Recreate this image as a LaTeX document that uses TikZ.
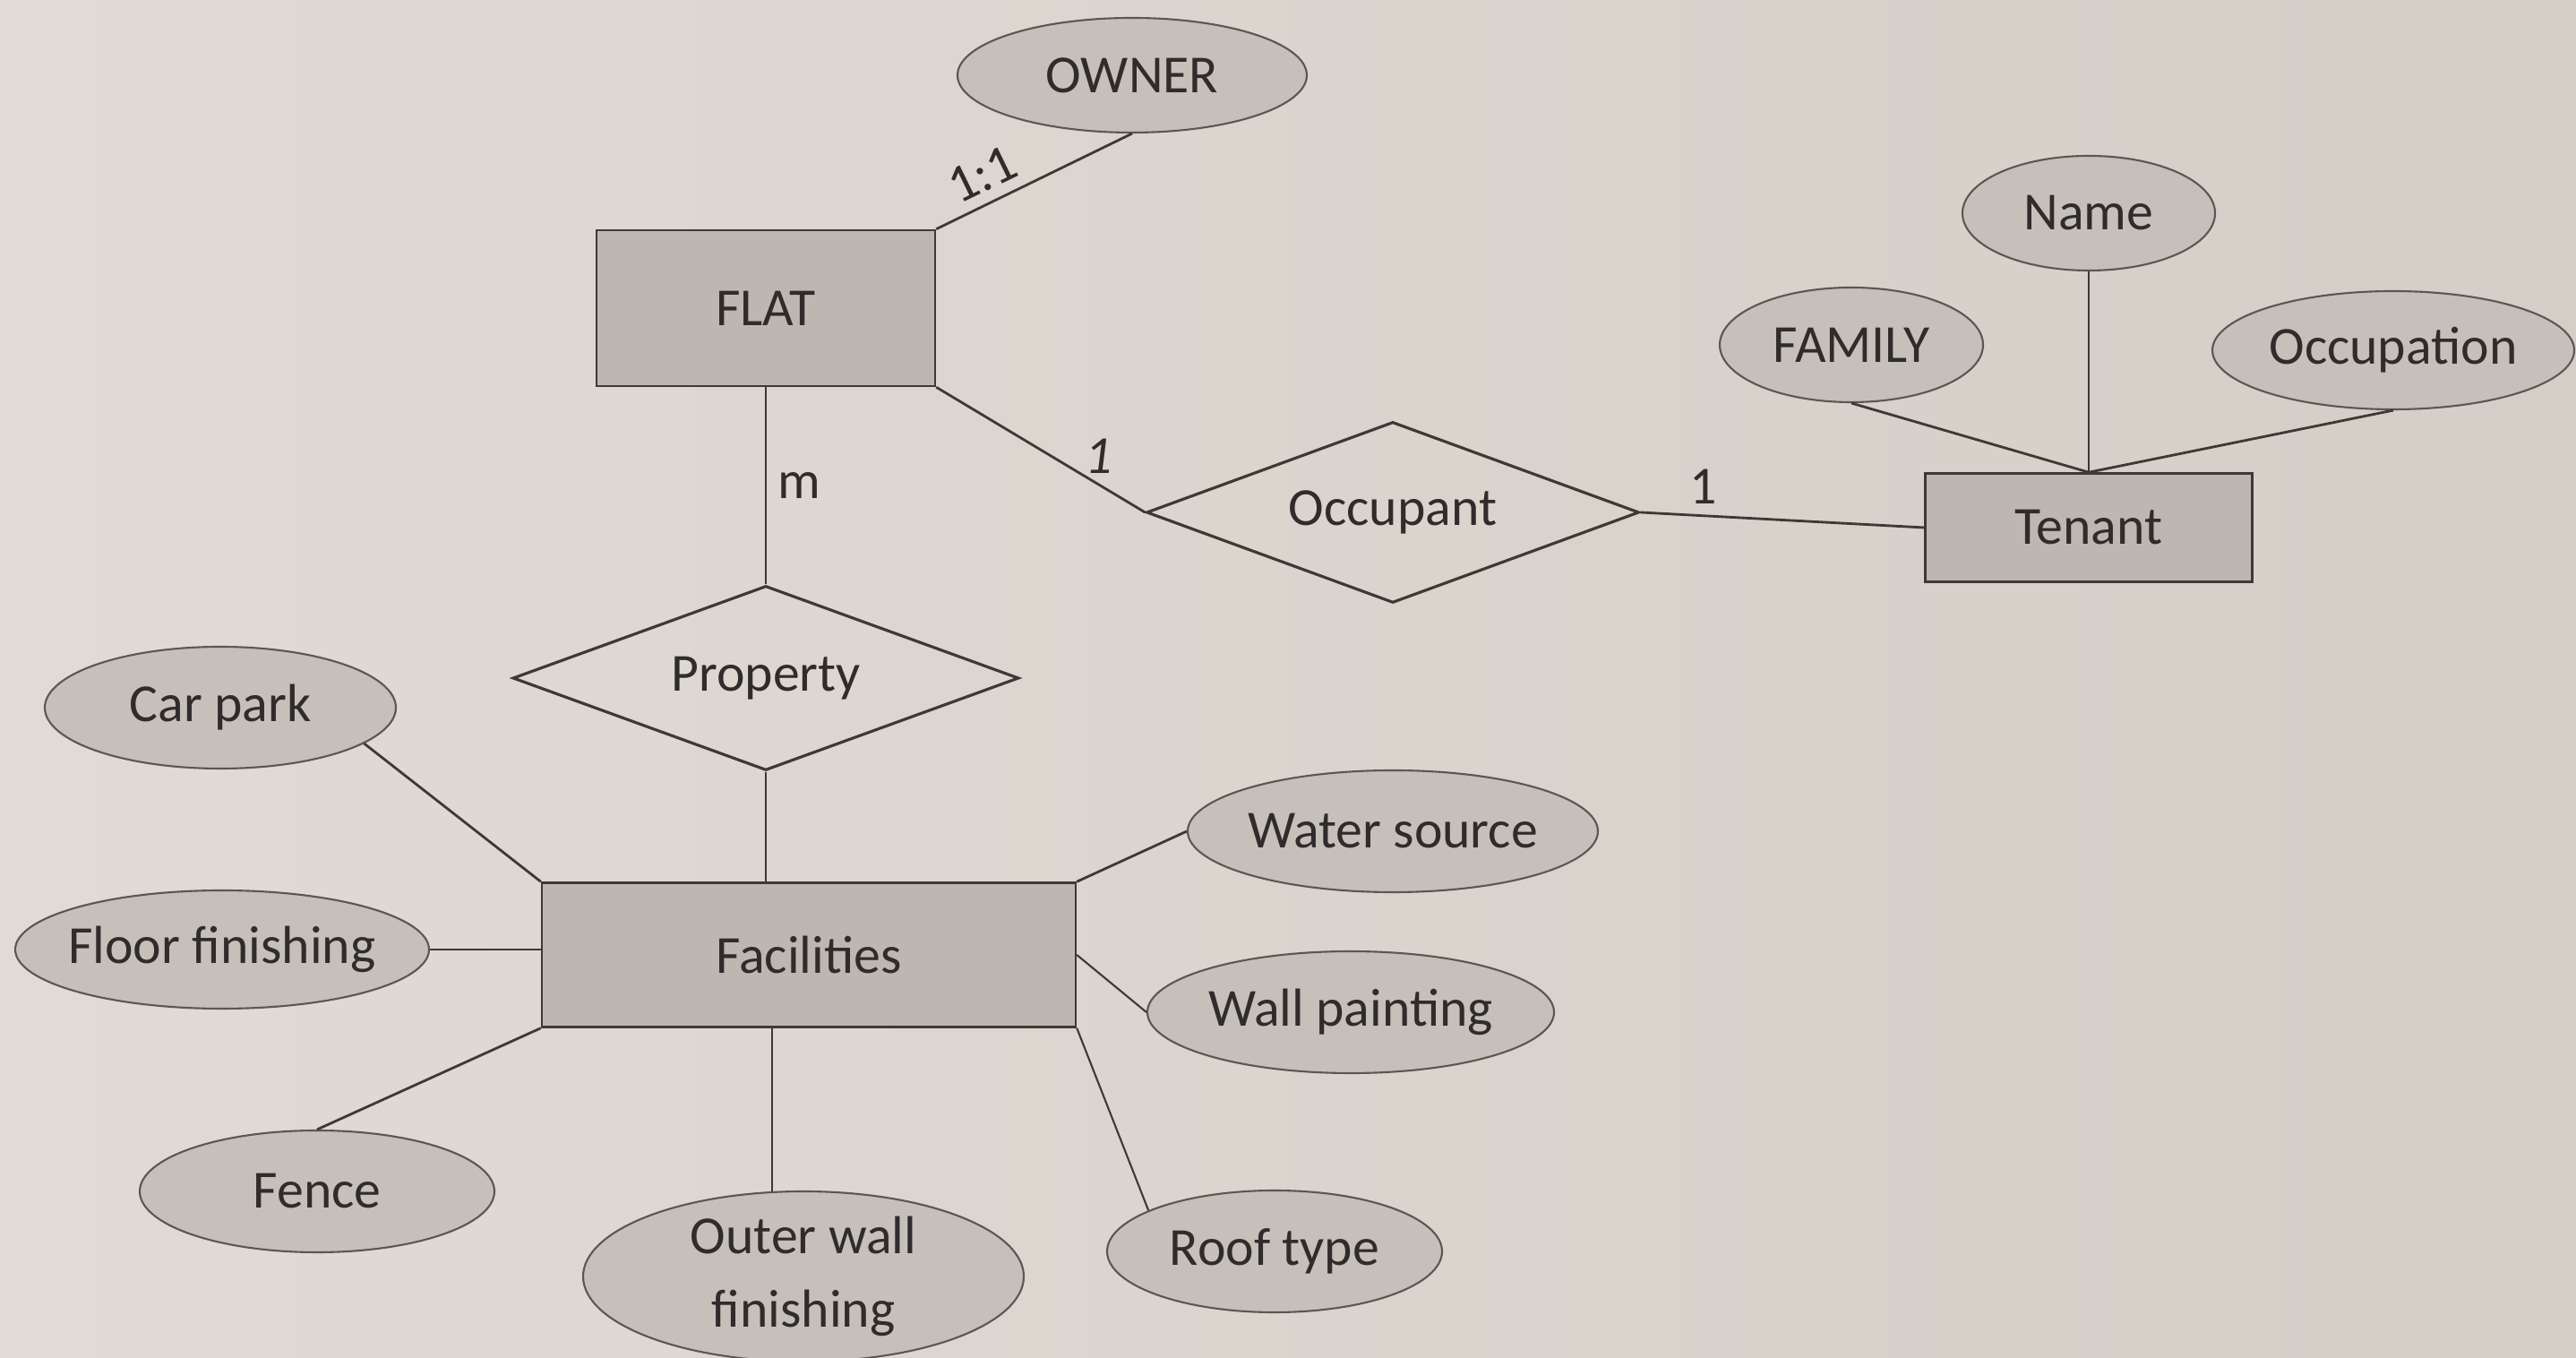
\documentclass[tikz,border=0pt]{standalone}
\usepackage{fontspec}
\setmainfont{Carlito}
\usetikzlibrary{shapes.geometric}
\definecolor{paperL}{RGB}{224,219,213}
\definecolor{paperR}{RGB}{213,206,199}
\definecolor{ink}{RGB}{62,57,54}
\definecolor{txt}{RGB}{48,44,44}
\definecolor{entfill}{RGB}{190,183,177}
\definecolor{attfill}{RGB}{198,192,187}
\tikzset{my entity/.style = {rectangle, draw=ink, fill=entfill, line width=0.7pt, inner sep=0pt},
  my attr/.style = {ellipse, draw=ink!85, fill=attfill, line width=0.6pt, inner sep=0pt},
  my rel/.style = {diamond, draw=ink, line width=0.9pt, inner sep=0pt, aspect=2.7},
  every edge/.style = {draw=ink, line width=0.8pt}
}

\begin{document}
\begin{tikzpicture}[every node/.style={font=\fontsize{17}{23.5}\selectfont, text=txt}]
        \shade[left color=paperL, right color=paperR] (0,0) rectangle (28.76,15.16);
        \useasboundingbox (0,0) rectangle (28.76,15.16);
        \path (8.55,11.72) node[my entity, minimum width=3.78cm, minimum height=1.74cm] (flat) {FLAT}
        (12.64,14.32) node[my attr, minimum width=3.9cm, minimum height=1.28cm] (owner) {OWNER}
        (15.55,9.44) node[my rel, minimum width=5.5cm, minimum height=2.02cm] (occupant) {Occupant}
        (23.32,9.27) node[my entity, minimum width=3.65cm, minimum height=1.21cm] (tenant) {Tenant}
        (20.67,11.31) node[my attr, minimum width=2.94cm, minimum height=1.28cm] (family) {FAMILY}
        (23.32,12.78) node[my attr, minimum width=2.82cm, minimum height=1.28cm] (name) {Name}
        (26.72,11.25) node[my attr, minimum width=4.04cm, minimum height=1.32cm] (occupation) {Occupation}
        (8.55,7.59) node[my rel, minimum width=5.65cm, minimum height=2.06cm] (property) {Property}
        (9.03,4.50) node[my entity, minimum width=5.96cm, minimum height=1.61cm] (facilities) {Facilities}
        (2.46,7.26) node[my attr, minimum width=3.92cm, minimum height=1.36cm] (carpark) {Car park}
        (2.48,4.56) node[my attr, minimum width=4.62cm, minimum height=1.32cm, inner xsep=-0.1cm] (floor) {Floor finishing}
        (3.54,1.86) node[my attr, minimum width=3.96cm, minimum height=1.36cm] (fence) {Fence}
        (8.97,0.91) node[my attr, minimum width=4.92cm, minimum height=1.84cm, align=center] (outerwall) {Outer wall\\finishing}
        (14.23,1.19) node[my attr, minimum width=3.74cm, minimum height=1.36cm] (roof) {Roof type}
        (15.08,3.86) node[my attr, minimum width=4.54cm, minimum height=1.36cm] (wall) {Wall painting}
        (15.55,5.88) node[my attr, minimum width=4.58cm, minimum height=1.36cm] (water) {Water source};
        \path
            (flat.north east) edge node[sloped, above, pos=0.3] {1:1} (owner.south)
            (flat.south east) edge node[above, pos=0.78, font=\fontsize{17}{20}\itshape] {1} (occupant.west)
            (occupant.east) edge node[above, pos=0.22] {1} (tenant.west)
            (flat.south) edge node[right, pos=0.5] {m} (property.north)
            (family.south) edge (tenant.north)
            (name.south) edge[line width=0.5pt] (tenant.north)
            (occupation.south) edge (tenant.north)
            (property.south) edge (property.south |- facilities.north)
            (carpark.-14) edge (facilities.north west)
            (floor.east) edge (floor.east -| facilities.west)
            (fence.north) edge (facilities.south west)
            (outerwall.110) edge[line width=0.6pt] (outerwall.110 |- facilities.south)
            (roof.162) edge[line width=0.6pt] (facilities.south east)
            (wall.west) edge[line width=0.6pt] (facilities.east)
            (water.west) edge (facilities.north east);
        \end{tikzpicture}
\end{document}
